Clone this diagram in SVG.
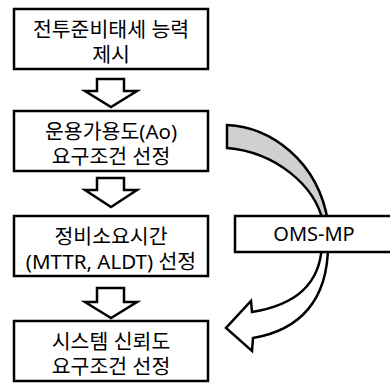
<svg xmlns="http://www.w3.org/2000/svg" width="390" height="383" viewBox="0 0 390 383">
<style>
.box{fill:#fff;stroke:#000;stroke-width:2.5}
.blk{fill:#fff;stroke:#000;stroke-width:2.5;stroke-linejoin:miter}
.t{font-family:"Noto Sans","Noto Sans CJK KR",sans-serif;font-size:20.5px;fill:#000;text-anchor:middle}
.o{font-family:"Noto Sans","Noto Sans CJK KR",sans-serif;font-size:20px;fill:#000;text-anchor:middle}
</style>
<rect width="390" height="383" fill="#fff"/>
<g id="connectors">
<path class="blk" d="M97,79 H124 V91 H137 L111,107 L85,91 H97 Z"/>
<path class="blk" d="M97,178 H124 V190 H137 L111,207 L85,190 H97 Z"/>
<path class="blk" d="M97,288 H124 V302 H137 L111,318 L85,302 H97 Z"/>
<path d="M227,125 C270,127 318,160 328,222 L323,222 C315,185 275,152 227,148 Z" fill="#d0d0d0" stroke="#000" stroke-width="2.5" stroke-linejoin="miter"/>
<path class="blk" d="M322,245 C320,285 295,305 252,312 L251,301 L226,328 L252,351 L253,338 C300,330 328,300 328,245 Z"/>
</g>
<g id="n1">
<rect class="box" x="14" y="9" width="194" height="60"/>
<text class="t" x="111" y="37">전투준비태세 능력</text>
<text class="t" x="111" y="62">제시</text>
</g>
<g id="n2">
<rect class="box" x="14" y="111" width="194" height="60"/>
<text class="t" x="111" y="139">운용가용도(Ao)</text>
<text class="t" x="111" y="164">요구조건 선정</text>
</g>
<g id="n3">
<rect class="box" x="14" y="216" width="194" height="60"/>
<text class="t" x="111" y="244">정비소요시간</text>
<text class="t" x="111" y="269">(MTTR, ALDT) 선정</text>
</g>
<g id="n4">
<rect class="box" x="14" y="321" width="194" height="60"/>
<text class="t" x="111" y="349">시스템 신뢰도</text>
<text class="t" x="111" y="374">요구조건 선정</text>
</g>
<g id="oms">
<rect class="box" x="235" y="216" width="160" height="36"/>
<text class="o" x="314" y="241">OMS-MP</text>
</g>
</svg>
